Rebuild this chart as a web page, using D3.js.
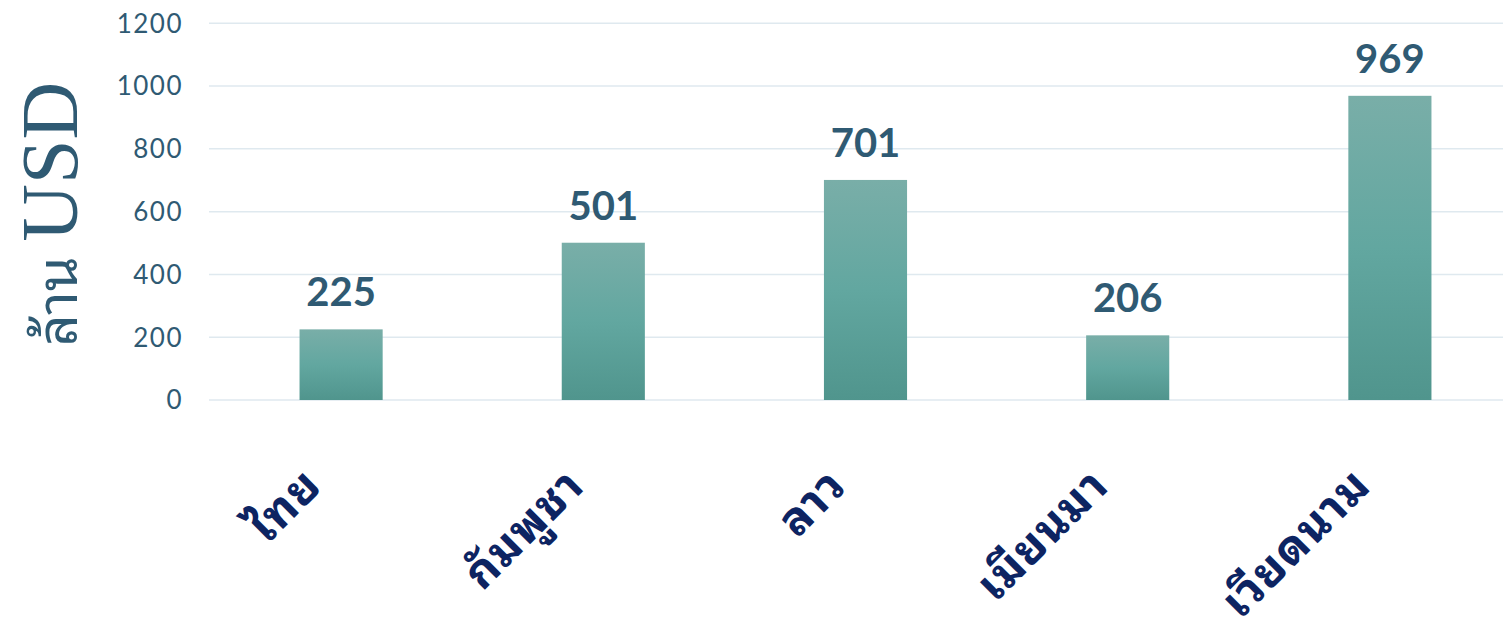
<!DOCTYPE html>
<html>
<head>
<meta charset="utf-8">
<script src="https://cdn.jsdelivr.net/npm/d3@7"></script>
<style>
  body { margin: 0; background: #fff; }
</style>
</head>
<body>
<div id="chart"></div>
<script>
// data
var countries = ["ไทย", "กัมพูชา", "ลาว", "เมียนมา", "เวียดนาม"];
var values = [225, 501, 701, 206, 969];
var yTicks = [0, 200, 400, 600, 800, 1000, 1200];
var yTitleThai = "ล้าน";
var yTitleUnit = "USD";

var w = 1503, h = 634;
var thaiFonts = "'Noto Sans Thai Looped', 'Loma', 'Garuda', 'Tahoma', 'Noto Sans Thai', 'Noto Sans', sans-serif";

var svg = d3.select("#chart").append("svg")
    .attr("width", w)
    .attr("height", h);

var xScale = d3.scalePoint().domain(countries).range([210, 1521]).padding(0.5);
var yScale = d3.scaleLinear().domain([0, 1200]).range([400, 23.3]);
var barW = xScale.step() * 0.317;

// gradient for bars
var defs = svg.append("defs");
var grad = defs.append("linearGradient")
    .attr("id", "barGrad")
    .attr("x1", 0).attr("y1", 0).attr("x2", 0).attr("y2", 1);
grad.append("stop").attr("offset", "0%").attr("stop-color", "#79aea8");
grad.append("stop").attr("offset", "50%").attr("stop-color", "#62a7a0");
grad.append("stop").attr("offset", "100%").attr("stop-color", "#50958d");

// gridlines
svg.selectAll("line.grid")
    .data(yTicks)
    .enter()
    .append("line")
    .attr("class", "grid")
    .attr("x1", 209)
    .attr("x2", w)
    .attr("y1", function(d) { return yScale(d); })
    .attr("y2", function(d) { return yScale(d); })
    .attr("stroke", "#dfe9ef")
    .attr("stroke-width", 1.5);

// y tick labels
svg.selectAll("text.ytick")
    .data(yTicks)
    .enter()
    .append("text")
    .attr("class", "ytick")
    .text(function(d) { return d; })
    .attr("x", 183)
    .attr("y", function(d) { return yScale(d); })
    .attr("dy", "0.36em")
    .attr("text-anchor", "end")
    .attr("font-family", "Lato, sans-serif")
    .attr("font-size", "26px")
    .attr("letter-spacing", "1.5px")
    .attr("fill", "#2f5a73");

// bars
svg.selectAll("rect.bar")
    .data(values)
    .enter()
    .append("rect")
    .attr("class", "bar")
    .attr("x", function(d, i) { return xScale(countries[i]) - barW / 2; })
    .attr("y", function(d) { return yScale(d); })
    .attr("width", barW)
    .attr("height", function(d) { return yScale(0) - yScale(d); })
    .attr("fill", "url(#barGrad)");

// value labels
svg.selectAll("text.val")
    .data(values)
    .enter()
    .append("text")
    .attr("class", "val")
    .text(function(d) { return d; })
    .attr("x", function(d, i) { return xScale(countries[i]); })
    .attr("y", function(d) { return yScale(d) - 23; })
    .attr("text-anchor", "middle")
    .attr("font-family", "Lato, sans-serif")
    .attr("font-weight", "bold")
    .attr("font-size", "40px")
    .attr("fill", "#2f5a73");

// category labels, rotated
svg.selectAll("text.cat")
    .data(countries)
    .enter()
    .append("text")
    .attr("class", "cat")
    .text(function(d) { return d; })
    .attr("transform", function(d) {
        return "translate(" + (xScale(d) - 17) + ",488) rotate(-45)";
    })
    .attr("text-anchor", "end")
    .attr("font-family", thaiFonts)
    .attr("font-weight", "bold")
    .attr("font-size", "46px")
    .attr("letter-spacing", "1px")
    .attr("fill", "#0d2462");

// y axis title
var yTitle = svg.append("text")
    .attr("transform", "translate(77,214) rotate(-90)")
    .attr("text-anchor", "middle")
    .attr("fill", "#2f5a73");
yTitle.append("tspan")
    .text(yTitleThai + " ")
    .attr("font-family", thaiFonts)
    .attr("font-size", "56px");
yTitle.append("tspan")
    .text(yTitleUnit)
    .attr("font-family", "'Liberation Serif', serif")
    .attr("font-size", "80px");
</script>
</body>
</html>
